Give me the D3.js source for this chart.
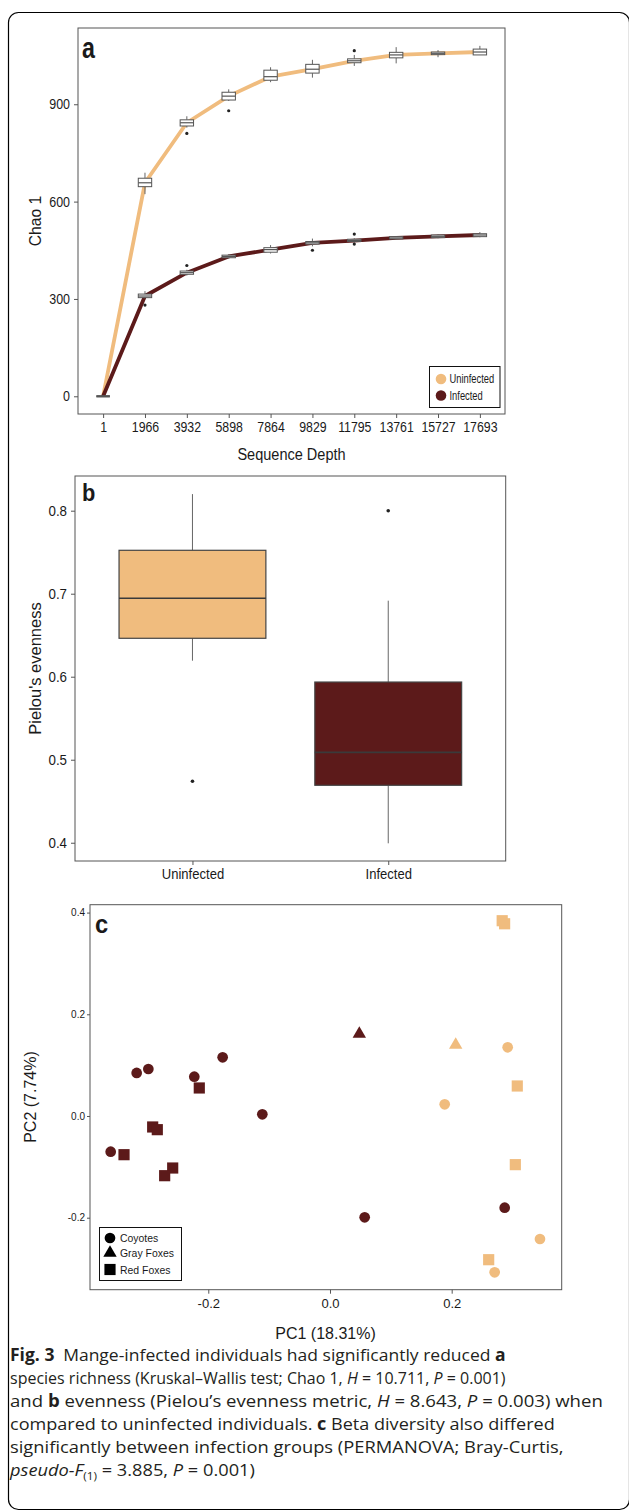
<!DOCTYPE html>
<html><head><meta charset="utf-8">
<script src="https://cdn.jsdelivr.net/npm/d3@7"></script>
<style>
body{margin:0;background:#fff;}
svg{display:block;}
text{font-family:"Liberation Sans",Arial,Helvetica,sans-serif;}
</style></head><body>
<svg id="c" width="629" height="1512"></svg>
<script>
// ---------- Panel a data (Chao 1 rarefaction boxplots) ----------
const depths = ["1","1966","3932","5898","7864","9829","11795","13761","15727","17693"];
const chaoTicks = [0, 300, 600, 900];
const uninfMedian = [0, 658, 843, 925, 985, 1008, 1034, 1052, 1057, 1061];
const uninfQ1     = [0, 646, 833, 913, 974, 996, 1028, 1043, 1053, 1052];
const uninfQ3     = [0, 672, 852, 937, 1005, 1023, 1040, 1060, 1061, 1070];
const uninfLo     = [0, 623, 828, 910, 968, 982, 1018, 1026, 1045, 1052];
const uninfHi     = [0, 689, 863, 946, 1014, 1037, 1052, 1076, 1067, 1080];
const uninfOut    = [[2, 810], [3, 880], [6, 1065]];
const infMedian   = [0, 309, 381, 431, 452, 473, 480, 488, 493, 497];
const infQ1       = [0, 304, 376, 427, 444, 469, 477, 485, 489, 492];
const infQ3       = [0, 315, 386, 435, 458, 477, 484, 492, 497, 501];
const infLo       = [0, 302, 372, 425, 440, 462, 474, 483, 487, 490];
const infHi       = [0, 324, 390, 437, 466, 486, 487, 494, 499, 506];
const infOut      = [[1, 281], [2, 403], [5, 450], [6, 500], [6, 469]];

// ---------- Panel b data (Pielou's evenness) ----------
const groups = ["Uninfected", "Infected"];
const evenTicks = [0.4, 0.5, 0.6, 0.7, 0.8];
const evenMedian = [0.6945, 0.5089];
const evenQ1 = [0.6463, 0.4692];
const evenQ3 = [0.7523, 0.5936];
const evenLo = [0.6193, 0.3993];
const evenHi = [0.8200, 0.6916];
const evenOut = [[0, 0.474], [1, 0.800]];

// ---------- Panel c data (PCoA) ----------
const pcTicks = [-0.2, 0.0, 0.2];
const pc2Ticks = [-0.2, 0.0, 0.2, 0.4];
const pc1 = [-0.3177,-0.2985,-0.2230,-0.1764,-0.1112,-0.3604,0.0570,0.2871,
             -0.2148,-0.2914,-0.2838,-0.3385,-0.2585,-0.2717,0.0482,
             0.283,0.287,0.3078,0.3046,0.2608,0.2920,0.1885,0.3451,0.2706,0.2066];
const pc2 = [0.0846,0.0924,0.0773,0.1154,0.0033,-0.0702,-0.1993,-0.1803,
             0.0551,-0.0216,-0.0269,-0.0761,-0.1023,-0.1174,0.1613,
             0.384,0.378,0.0590,-0.0957,-0.2826,0.1351,0.0230,-0.2419,-0.3074,0.1396];
const status = ["Infected","Infected","Infected","Infected","Infected","Infected","Infected","Infected",
                "Infected","Infected","Infected","Infected","Infected","Infected","Infected",
                "Uninfected","Uninfected","Uninfected","Uninfected","Uninfected","Uninfected","Uninfected","Uninfected","Uninfected","Uninfected"];
const species = ["Coyotes","Coyotes","Coyotes","Coyotes","Coyotes","Coyotes","Coyotes","Coyotes",
                 "Red Foxes","Red Foxes","Red Foxes","Red Foxes","Red Foxes","Red Foxes","Gray Foxes",
                 "Red Foxes","Red Foxes","Red Foxes","Red Foxes","Red Foxes","Coyotes","Coyotes","Coyotes","Coyotes","Gray Foxes"];
const speciesList = ["Coyotes", "Gray Foxes", "Red Foxes"];

const TAN = "#F0BC7E", MAROON = "#5C1A1A";
const FRAME = "#555555", INK = "#1a1a1a";

const svg = d3.select("#c");
svg.append("rect").attr("width", 629).attr("height", 1512).attr("fill", "#fff");
svg.append("rect").attr("x", 8.5).attr("y", 12.5).attr("width", 621).attr("height", 1497)
  .attr("rx", 10).attr("fill", "none").attr("stroke", "#000").attr("stroke-width", 1.2);

function narrowAxisText(g, k, size) {
  g.selectAll("text").each(function () {
    const t = d3.select(this);
    const x = +t.attr("x") || 0;
    t.attr("x", x / k).attr("transform", `scale(${k},1)`)
      .attr("font-size", size).attr("fill", INK)
      .style("font-family", '"Liberation Sans",Arial,sans-serif');
  });
  g.select(".domain").remove();
  g.selectAll("line").attr("stroke", FRAME);
}
function ntext(x, y, str, size, k, anchor, weight, rot) {
  return svg.append("text")
    .attr("transform", `translate(${x},${y})` + (rot ? ` rotate(${rot})` : "") + ` scale(${k},1)`)
    .attr("text-anchor", anchor || "start").attr("font-size", size)
    .attr("font-weight", weight || "normal").attr("fill", INK).text(str);
}

// ================= Panel a =================
const A = {l: 78, t: 28, r: 505, b: 414};
const xA = d3.scalePoint().domain(depths).range([A.l, A.r]).padding(0.6);
const yA = d3.scaleLinear().domain([-54.6, 1135]).range([A.b, A.t]);
const gA = svg.append("g");
gA.append("g").attr("transform", `translate(${A.l},0)`)
  .call(d3.axisLeft(yA).tickValues(chaoTicks).tickSize(4).tickPadding(4))
  .call(g => narrowAxisText(g, 0.86, 14.5));
gA.append("g").attr("transform", `translate(0,${A.b})`)
  .call(d3.axisBottom(xA).tickSize(4).tickPadding(4))
  .call(g => narrowAxisText(g, 0.85, 14.5));

const lineA = d3.line().x((d, i) => xA(depths[i])).y(d => yA(d));
gA.append("path").datum(uninfMedian).attr("d", lineA).attr("fill", "none")
  .attr("stroke", TAN).attr("stroke-width", 3.8).attr("stroke-linejoin", "round");
gA.append("path").datum(infMedian).attr("d", lineA).attr("fill", "none")
  .attr("stroke", MAROON).attr("stroke-width", 3.8).attr("stroke-linejoin", "round");

function drawBoxes(med, q1, q3, lo, hi, outs) {
  const bw = 13.4;
  depths.forEach((d, i) => {
    const cx = xA(d);
    if (i === 0) {
      gA.append("line").attr("x1", cx - bw / 2).attr("x2", cx + bw / 2)
        .attr("y1", yA(med[i])).attr("y2", yA(med[i])).attr("stroke", "#555").attr("stroke-width", 2);
      return;
    }
    gA.append("line").attr("x1", cx).attr("x2", cx).attr("y1", yA(hi[i])).attr("y2", yA(q3[i]))
      .attr("stroke", "#666").attr("stroke-width", 1);
    gA.append("line").attr("x1", cx).attr("x2", cx).attr("y1", yA(q1[i])).attr("y2", yA(lo[i]))
      .attr("stroke", "#666").attr("stroke-width", 1);
    gA.append("rect").attr("x", cx - bw / 2).attr("width", bw)
      .attr("y", yA(q3[i])).attr("height", Math.max(0.5, yA(q1[i]) - yA(q3[i])))
      .attr("fill", "#fff").attr("stroke", "#555").attr("stroke-width", 1);
    gA.append("line").attr("x1", cx - bw / 2).attr("x2", cx + bw / 2)
      .attr("y1", yA(med[i])).attr("y2", yA(med[i])).attr("stroke", "#555").attr("stroke-width", 1.2);
  });
  outs.forEach(o => {
    gA.append("circle").attr("cx", xA(depths[o[0]])).attr("cy", yA(o[1])).attr("r", 1.6).attr("fill", "#222");
  });
}
drawBoxes(uninfMedian, uninfQ1, uninfQ3, uninfLo, uninfHi, uninfOut);
drawBoxes(infMedian, infQ1, infQ3, infLo, infHi, infOut);

gA.append("rect").attr("x", A.l).attr("y", A.t).attr("width", A.r - A.l).attr("height", A.b - A.t)
  .attr("fill", "none").attr("stroke", FRAME).attr("stroke-width", 1);

// legend a
gA.append("rect").attr("x", 429.5).attr("y", 366.5).attr("width", 70.5).attr("height", 41)
  .attr("fill", "#fff").attr("stroke", "#111").attr("stroke-width", 1);
[["Uninfected", TAN, 379], ["Infected", MAROON, 395.5]].forEach(e => {
  gA.append("circle").attr("cx", 441).attr("cy", e[2]).attr("r", 5.3).attr("fill", e[1]);
  ntext(449.5, e[2] + 4.2, e[0], 12, 0.78);
});
ntext(82, 58, "a", 29, 0.8, "start", "bold");
ntext(41, 221, "Chao 1", 16.5, 0.95, "middle", "normal", -90);
ntext(291.5, 460, "Sequence Depth", 16.5, 0.88, "middle");

// ================= Panel b =================
const B = {l: 75, t: 476, r: 505.7, b: 861};
const xB = d3.scalePoint().domain(groups).range([B.l, B.r]).padding(0.6);
const yB = d3.scaleLinear().domain([0.378, 0.8418]).range([B.b, B.t]);
const gB = svg.append("g");
gB.append("g").attr("transform", `translate(${B.l},0)`)
  .call(d3.axisLeft(yB).tickValues(evenTicks).tickFormat(d3.format(".1f")).tickSize(4).tickPadding(4))
  .call(g => narrowAxisText(g, 0.92, 14.5));
gB.append("g").attr("transform", `translate(0,${B.b})`)
  .call(d3.axisBottom(xB).tickSize(4).tickPadding(4))
  .call(g => narrowAxisText(g, 0.9, 14.5));
const bwB = xB.step() * 0.75;
groups.forEach((gname, i) => {
  const cx = xB(gname);
  gB.append("line").attr("x1", cx).attr("x2", cx).attr("y1", yB(evenHi[i])).attr("y2", yB(evenQ3[i]))
    .attr("stroke", "#666").attr("stroke-width", 1);
  gB.append("line").attr("x1", cx).attr("x2", cx).attr("y1", yB(evenQ1[i])).attr("y2", yB(evenLo[i]))
    .attr("stroke", "#666").attr("stroke-width", 1);
  gB.append("rect").attr("x", cx - bwB / 2).attr("width", bwB)
    .attr("y", yB(evenQ3[i])).attr("height", yB(evenQ1[i]) - yB(evenQ3[i]))
    .attr("fill", i === 0 ? TAN : MAROON).attr("stroke", "#444").attr("stroke-width", 1.2);
  gB.append("line").attr("x1", cx - bwB / 2).attr("x2", cx + bwB / 2)
    .attr("y1", yB(evenMedian[i])).attr("y2", yB(evenMedian[i])).attr("stroke", "#3a3a3a").attr("stroke-width", 1.6);
});
evenOut.forEach(o => {
  gB.append("circle").attr("cx", xB(groups[o[0]])).attr("cy", yB(o[1])).attr("r", 1.8).attr("fill", "#222");
});
gB.append("rect").attr("x", B.l).attr("y", B.t).attr("width", B.r - B.l).attr("height", B.b - B.t)
  .attr("fill", "none").attr("stroke", FRAME).attr("stroke-width", 1);
ntext(82, 501, "b", 23, 0.95, "start", "bold");
ntext(41, 668.5, "Pielou's evenness", 17, 0.97, "middle", "normal", -90);

// ================= Panel c =================
const C = {l: 90, t: 904.7, r: 561.7, b: 1289.7};
const xC = d3.scaleLinear().domain([-0.3944, 0.3808]).range([C.l, C.r]);
const yC = d3.scaleLinear().domain([-0.3416, 0.4155]).range([C.b, C.t]);
const gC = svg.append("g");
const fmt = d => d.toFixed(1);
gC.append("g").attr("transform", `translate(${C.l},0)`)
  .call(d3.axisLeft(yC).tickValues(pc2Ticks).tickFormat(fmt).tickSize(3).tickPadding(2))
  .call(g => narrowAxisText(g, 1, 10));
gC.append("g").attr("transform", `translate(0,${C.b})`)
  .call(d3.axisBottom(xC).tickValues(pcTicks).tickFormat(fmt).tickSize(4).tickPadding(5))
  .call(g => narrowAxisText(g, 1, 13));
const symType = {"Coyotes": d3.symbolCircle, "Gray Foxes": d3.symbolTriangle, "Red Foxes": d3.symbolSquare};
const symSize = {"Coyotes": 90, "Gray Foxes": 78, "Red Foxes": 125};
pc1.forEach((v, i) => {
  gC.append("path")
    .attr("d", d3.symbol().type(symType[species[i]]).size(symSize[species[i]])())
    .attr("transform", `translate(${xC(v)},${yC(pc2[i])})`)
    .attr("fill", status[i] === "Infected" ? MAROON : TAN);
});
gC.append("rect").attr("x", C.l).attr("y", C.t).attr("width", C.r - C.l).attr("height", C.b - C.t)
  .attr("fill", "none").attr("stroke", FRAME).attr("stroke-width", 1);
// legend c
gC.append("rect").attr("x", 99.5).attr("y", 1227.5).attr("width", 82).attr("height", 53)
  .attr("fill", "#fff").attr("stroke", "#111").attr("stroke-width", 1);
speciesList.forEach((s, i) => {
  const yy = [1238, 1253, 1269.5][i];
  gC.append("path").attr("d", d3.symbol().type(symType[s]).size(symSize[s])())
    .attr("transform", `translate(110,${yy})`).attr("fill", "#000");
  ntext(120, yy + 4, s, 11, 0.95);
});
ntext(95, 933, "c", 25, 0.95, "start", "bold");
ntext(325.5, 1338.5, "PC1 (18.31%)", 16, 1, "middle");
ntext(36, 1097, "PC2 (7.74%)", 16, 1, "middle", "normal", -90);

// ================= Caption =================
const capLines = [
  [["Fig. 3", "b"], ["\u2002Mange-infected individuals had significantly reduced ", ""], ["a", "b"]],
  [["species richness (Kruskal\u2013Wallis test; Chao 1, ", ""], ["H", "i"], [" = 10.711, ", ""], ["P", "i"], [" = 0.001)", ""]],
  [["and ", ""], ["b", "b"], [" evenness (Pielou\u2019s evenness metric, ", ""], ["H", "i"], [" = 8.643, ", ""], ["P", "i"], [" = 0.003) when", ""]],
  [["compared to uninfected individuals. ", ""], ["c", "b"], [" Beta diversity also differed", ""]],
  [["significantly between infection groups (PERMANOVA; Bray-Curtis,", ""]],
  [["pseudo-F", "i"], ["(1)", "s"], [" = 3.885, ", "r"], ["P", "i"], [" = 0.001)", ""]]
];
const capWidths = [496, 496, 593, 545, 554, 245];
const capBase = [1361, 1384, 1407, 1430, 1453, 1476];
capLines.forEach((parts, li) => {
  const t = svg.append("text").attr("x", 0).attr("y", 0)
    .attr("font-size", 17).attr("fill", "#231f20")
    .style("font-family", '"Open Sans","Noto Sans",sans-serif')
    .style("white-space", "pre");
  parts.forEach(p => {
    const ts = t.append("tspan").text(p[0]);
    if (p[1] === "b") ts.attr("font-weight", "bold");
    if (p[1] === "i") ts.attr("font-style", "italic");
    if (p[1] === "s") ts.attr("font-size", 11).attr("dy", 4);
    if (p[1] === "r") ts.attr("dy", -4);
  });
  const w = t.node().getComputedTextLength();
  const k = w > 0 ? capWidths[li] / w : 1;
  t.attr("transform", `translate(10,${capBase[li]}) scale(${k},1)`);
});
</script>
</body></html>
